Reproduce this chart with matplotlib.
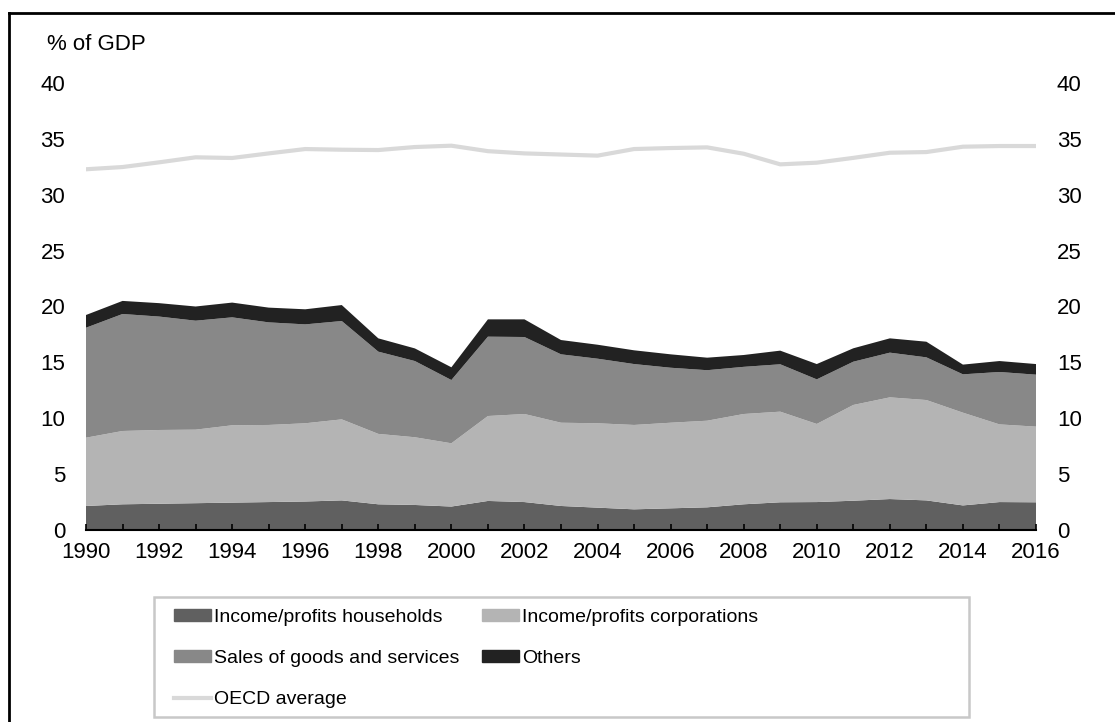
import matplotlib
matplotlib.use("Agg")
import matplotlib.pyplot as plt
from matplotlib import font_manager
from matplotlib.patches import Patch, Rectangle
from matplotlib.lines import Line2D

years = list(range(1990, 2017))
households = [2.15, 2.3, 2.35, 2.4, 2.45, 2.5, 2.55, 2.65, 2.3, 2.24, 2.1, 2.6, 2.5, 2.15, 2.0, 1.85, 1.94,
              2.03, 2.3, 2.48, 2.5, 2.62, 2.77, 2.65, 2.2, 2.5, 2.48]
# top of each layer, turned into layer sizes below
corp_top = [8.26, 8.86, 8.95, 8.98, 9.37, 9.4, 9.55, 9.9, 8.6, 8.3, 7.76, 10.2, 10.38, 9.6, 9.55, 9.4, 9.6,
            9.78, 10.38, 10.59, 9.49, 11.19, 11.87, 11.63, 10.5, 9.45, 9.25]
sales_top = [18.1, 19.33, 19.1, 18.73, 19.03, 18.58, 18.4, 18.7, 15.96, 15.12, 13.42, 17.3, 17.27, 15.72,
             15.33, 14.85, 14.52, 14.3, 14.6, 14.83, 13.48, 15.06, 15.87, 15.45, 13.93, 14.14, 13.9]
others_top = [19.24, 20.5, 20.3, 20.0, 20.35, 19.9, 19.75, 20.13, 17.15, 16.25, 14.56, 18.85, 18.85, 17.0,
              16.58, 16.08, 15.72, 15.42, 15.66, 16.05, 14.85, 16.26, 17.15, 16.85, 14.8, 15.12, 14.85]
oecd = [32.28, 32.48, 32.9, 33.35, 33.29, 33.7, 34.09, 34.03, 34.0, 34.27, 34.39, 33.9, 33.7, 33.6, 33.5,
        34.09, 34.18, 34.24, 33.67, 32.72, 32.87, 33.3, 33.76, 33.82, 34.3, 34.36, 34.36]

corporations = [c - h for c, h in zip(corp_top, households)]
sales = [s - c for s, c in zip(sales_top, corp_top)]
others = [o - s for o, s in zip(others_top, sales_top)]

labels = ["Income/profits households", "Income/profits corporations",
          "Sales of goods and services", "Others"]
colors = ["#606060", "#b4b4b4", "#888888", "#222222"]

plt.rcParams['font.family'] = ['Liberation Sans', 'DejaVu Sans']
avail = {f.name for f in font_manager.fontManager.ttflist}
narrow = 'Liberation Sans Narrow' if 'Liberation Sans Narrow' in avail else 'Liberation Sans'
leg_size = 15 if narrow != 'Liberation Sans' else 14

fig = plt.figure(figsize=(11.15, 7.22), dpi=100)
ax = fig.add_axes([86 / 1115, 1 - 530 / 722, 950 / 1115, 447 / 722])

ax.stackplot(years, households, corporations, sales, others, colors=colors, linewidth=0)
ax.plot(years, oecd, color="#d9d9d9", linewidth=3)

ax.set_xlim(1990, 2016)
ax.set_ylim(0, 40)
ax.set_xticks(years)
ax.set_xticklabels([str(y) if y % 2 == 0 else "" for y in years])
ax.set_yticks(range(0, 41, 5))
for s in ["top", "left", "right"]:
    ax.spines[s].set_visible(False)
ax.spines["bottom"].set_linewidth(1.5)
ax.tick_params(axis="x", direction="in", length=4.5, width=1.2, labelsize=16, pad=9)
ax.tick_params(axis="y", length=0, labelsize=16, pad=15, labelright=True)

fig.text(47 / 1115, 1 - 44 / 722, "% of GDP", fontsize=16, ha="left", va="center")

# legend
handles = [Patch(color=colors[0]), Patch(color=colors[2]), Line2D([], [], color="#d9d9d9", lw=3),
           Patch(color=colors[1]), Patch(color=colors[3])]
leg_labels = [labels[0], labels[2], "OECD average", labels[1], labels[3]]
fig.legend(handles, leg_labels, loc="upper left", bbox_to_anchor=(166 / 1115, 1 - 601 / 722),
           ncol=2, frameon=False, prop={"family": narrow, "size": leg_size},
           handlelength=1.9, handleheight=0.55, handletextpad=0.15, labelspacing=1.25,
           columnspacing=1.2, borderaxespad=0)
fig.patches.append(Rectangle((154 / 1115, 1 - 717 / 722), 815 / 1115, 120 / 722,
                             transform=fig.transFigure, fill=False, edgecolor="#c8c8c8", lw=1.8))

# outer frame (open on right and bottom)
fig.add_artist(Line2D([9 / 1115, 9 / 1115], [0, 1 - 13 / 722], transform=fig.transFigure, color="black", lw=2))
fig.add_artist(Line2D([9 / 1115, 1], [1 - 13 / 722, 1 - 13 / 722], transform=fig.transFigure, color="black", lw=2))

fig.savefig("out.png", dpi=100)
